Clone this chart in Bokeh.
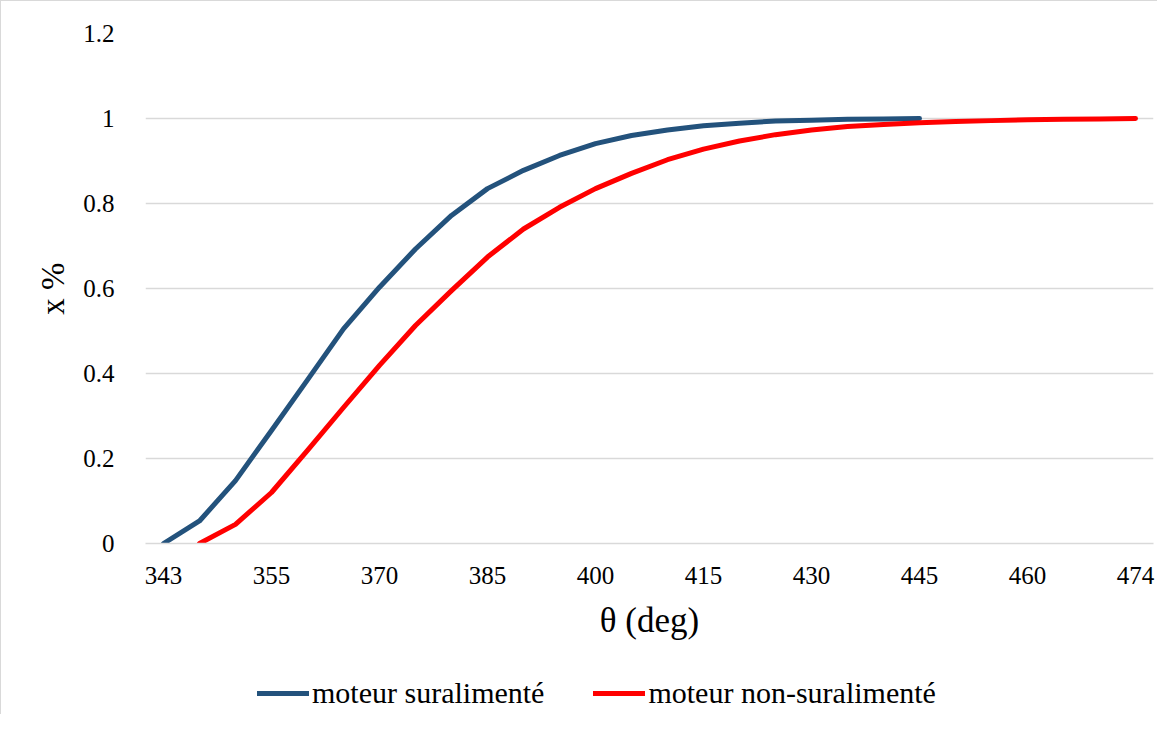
from bokeh.plotting import figure
from bokeh.layouts import column
from bokeh.models import Range1d, FixedTicker, Legend, LegendItem
from bokeh.embed import file_html
from bokeh.resources import INLINE

# category axis (theta in degrees); every third category is labelled
theta = [343, 347, 351, 355, 360, 365, 370, 375, 380, 385, 390, 395, 400, 405,
         410, 415, 420, 425, 430, 435, 440, 445, 450, 455, 460, 465, 470, 474]

supercharged = [0.0, 0.053, 0.148, 0.266, 0.385, 0.505, 0.603, 0.693, 0.772, 0.835,
                0.878, 0.913, 0.941, 0.960, 0.973, 0.983, 0.989, 0.994, 0.996,
                0.998, 0.999, 1.0]
naturally_aspirated = [None, 0.0, 0.045, 0.12, 0.219, 0.32, 0.419, 0.513, 0.595, 0.674,
                       0.74, 0.791, 0.835, 0.871, 0.903, 0.928, 0.947, 0.962, 0.973,
                       0.981, 0.986, 0.99, 0.993, 0.995, 0.997, 0.998, 0.999, 1.0]
y_ticks = [0, 0.2, 0.4, 0.6, 0.8, 1, 1.2]
y_tick_labels = ["0", "0.2", "0.4", "0.6", "0.8", "1", "1.2"]

names = ["moteur suralimenté", "moteur non-suralimenté"]
colors = ["#23527C", "#FF0000"]

FONT = "Liberation Serif"
W = 1156

p = figure(width=W, height=650, output_backend="svg", toolbar_location=None,
           x_range=Range1d(-0.5, len(theta) - 0.5), y_range=Range1d(0, 1.2),
           min_border_left=144, min_border_right=4, min_border_top=32,
           min_border_bottom=108)
p.outline_line_color = None
p.background_fill_color = "white"
p.border_fill_color = "white"

idx = list(range(len(theta)))
xs1 = idx[:len(supercharged)]
ys1 = supercharged
xs2 = [i for i, v in zip(idx, naturally_aspirated) if v is not None]
ys2 = [v for v in naturally_aspirated if v is not None]

p.line(xs1, ys1, line_color=colors[0], line_width=5, line_cap="round", line_join="round")
p.line(xs2, ys2, line_color=colors[1], line_width=5, line_cap="round", line_join="round")

# x axis
label_idx = list(range(0, len(theta), 3))
p.xaxis.ticker = FixedTicker(ticks=label_idx)
p.xaxis.major_label_overrides = {i: str(theta[i]) for i in label_idx}
p.xaxis.major_tick_line_color = None
p.xaxis.minor_tick_line_color = None
p.xaxis.axis_line_color = "#d9d9d9"
p.xaxis.axis_line_width = 1.5
p.xaxis.major_label_text_font = FONT
p.xaxis.major_label_text_font_size = "25px"
p.xaxis.major_label_text_color = "#000000"
p.xaxis.major_label_standoff = 17
p.xaxis.axis_label = "θ (deg)"
p.xaxis.axis_label_text_font = FONT
p.xaxis.axis_label_text_font_size = "35px"
p.xaxis.axis_label_text_font_style = "normal"
p.xaxis.axis_label_text_color = "#000000"
p.xaxis.axis_label_standoff = 14

# y axis
p.yaxis.ticker = FixedTicker(ticks=y_ticks)
p.yaxis.major_label_overrides = {t: l for t, l in zip(y_ticks, y_tick_labels)}
p.yaxis.major_tick_line_color = None
p.yaxis.minor_tick_line_color = None
p.yaxis.axis_line_color = None
p.yaxis.major_label_text_font = FONT
p.yaxis.major_label_text_font_size = "25px"
p.yaxis.major_label_text_color = "#000000"
p.yaxis.major_label_standoff = 25
p.yaxis.axis_label = "x %"
p.yaxis.axis_label_text_font = FONT
p.yaxis.axis_label_text_font_size = "33px"
p.yaxis.axis_label_text_font_style = "normal"
p.yaxis.axis_label_text_color = "#000000"
p.yaxis.axis_label_standoff = 9

p.xgrid.grid_line_color = None
p.ygrid.grid_line_color = "#d9d9d9"
p.ygrid.grid_line_width = 1.5

# legend strip below the chart (series drawn out of view; only legend shows)
lg = figure(width=W, height=63, output_backend="svg", toolbar_location=None,
            x_range=Range1d(-0.5, len(theta) - 0.5), y_range=Range1d(10, 11),
            min_border_left=0, min_border_right=0, min_border_top=0, min_border_bottom=0)
lg.axis.visible = False
lg.grid.visible = False
lg.outline_line_color = None
lg.background_fill_color = "white"
lg.border_fill_color = "white"
d1 = lg.line(xs1, ys1, line_color=colors[0], line_width=5, line_cap="round")
d2 = lg.line(xs2, ys2, line_color=colors[1], line_width=5, line_cap="round")

legend = Legend(items=[LegendItem(label=names[0], renderers=[d1]),
                       LegendItem(label=names[1], renderers=[d2])],
                orientation="horizontal", location=(112, 4),
                glyph_width=52, glyph_height=30, label_standoff=3, spacing=49,
                padding=0, margin=0, border_line_color=None,
                background_fill_alpha=0,
                label_text_font=FONT, label_text_font_size="30px",
                label_text_color="#000000")
lg.add_layout(legend, "center")

layout = column(p, lg, spacing=0,
                styles={"border-left": "1px solid #d9d9d9", "border-top": "1px solid #d9d9d9"})

open("out.html", "w").write(file_html(layout, INLINE))
